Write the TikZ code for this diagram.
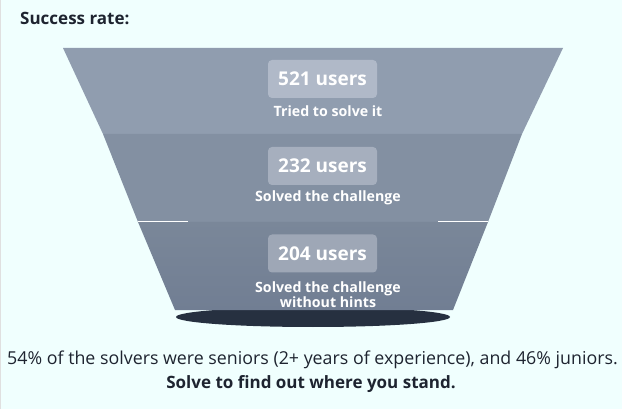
\documentclass[tikz,border=0pt]{standalone}
\usepackage{fontspec}
\setmainfont{Open Sans}
\definecolor{bg}{HTML}{F0FFFE}
\definecolor{sone}{HTML}{909DAF}
\definecolor{stwo}{HTML}{8390A2}
\definecolor{sthreetop}{HTML}{7A8799}
\definecolor{sthreebot}{HTML}{717E93}
\definecolor{boxone}{HTML}{B0B9C8}
\definecolor{boxtwo}{HTML}{A6AFBE}
\definecolor{boxthree}{HTML}{9EA7B6}
\definecolor{basec}{HTML}{263040}
\definecolor{txt}{HTML}{1E2430}
\tikzset{
  countbox/.style={rounded corners=4pt, minimum width=109pt, minimum height=38pt, inner sep=0pt,
    text=white, font=\fontsize{19}{22}\selectfont\bfseries},
  caption/.style={text=white, font=\fontsize{14.2}{13}\selectfont\bfseries, align=center, inner sep=0pt},
}
\begin{document}
\begin{tikzpicture}[x=1pt,y=-1pt]
\fill[bg] (0,0) rectangle (622,409);
\useasboundingbox (0,0) rectangle (622,409);
\draw[black!12, line width=1pt] (0.5,0) -- (0.5,409);
\node[anchor=west, text=txt, font=\fontsize{17}{20}\selectfont\bfseries, inner sep=0pt] (title) at (20,18) {Success rate:};
% base ellipse
\fill[basec] (313,317) ellipse [x radius=137, y radius=10];
% sections
\fill[sone] (63,48) -- (563,48) -- (522,134) -- (103,134) -- cycle;
\fill[stwo] (103,134) -- (522,134) -- (488,222) -- (138,222) -- cycle;
\shade[top color=sthreetop, bottom color=sthreebot] (138,222) -- (488,222) -- (453,310) -- (175,310) -- cycle;
\draw[white, line width=1pt] (138,221.5) -- (188,221.5);
\draw[white, line width=1pt] (438,221.5) -- (488,221.5);
% labels
\node[countbox, fill=boxone] (b1) at (322.5,79) {521 users};
\node[caption] (c1) at (328,111) {Tried to solve it};
\node[countbox, fill=boxtwo] (b2) at (322.5,166) {232 users};
\node[caption] (c2) at (328,198) {Solved the challenge};
\node[countbox, fill=boxthree] (b3) at (322.5,253.5) {204 users};
\node[caption] (c3) at (328,294.5) {Solved the challenge\\without hints};
% bottom text
\node[text=txt, font=\fontsize{17.8}{20}\selectfont, inner sep=0pt] (t1) at (312.5,360) {54\% of the solvers were seniors (2+ years of experience), and 46\% juniors.};
\node[text=txt, font=\fontsize{17}{20}\selectfont\bfseries, inner sep=0pt] (t2) at (311,384) {Solve to find out where you stand.};
\end{tikzpicture}
\end{document}
